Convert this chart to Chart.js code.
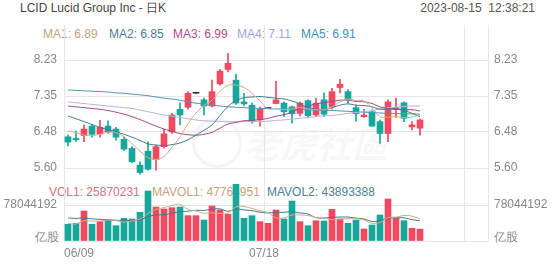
<!DOCTYPE html>
<html>
<head>
<meta charset="utf-8">
<script src="https://cdn.jsdelivr.net/npm/chart.js@4.4.0/dist/chart.umd.min.js"></script>
<style>
body { margin: 0; background: #fff; font-family: "Liberation Sans", Arial, sans-serif; }
#wrap { position: relative; width: 552px; height: 265px; overflow: hidden; }
canvas { position: absolute; left: 0; }
.t { position: absolute; font-size: 12px; line-height: 14px; white-space: nowrap; }
.wm { position: absolute; color: rgba(0,0,0,0.05); font-size: 36px; font-weight: bold; font-style: italic; font-family: "Noto Sans CJK SC", sans-serif; }
.wmc { position: absolute; border: 3px solid rgba(0,0,0,0.045); border-radius: 50%; }
</style>
</head>
<body>
<div id="wrap">
  <div class="wmc" style="left:192px;top:118px;width:44px;height:44px;"></div>
  <div class="wm" style="left:244px;top:116px;">老虎社區</div>
  <div class="t" style="left:20px;top:1px;color:#444;">LCID Lucid Group Inc - 日K</div>
  <div class="t" style="right:17px;top:1px;color:#555;">2023-08-15&nbsp; 12:38:21</div>
  <div class="t" style="left:43px;top:27px;color:#c9a27e;">MA1: 6.89</div>
  <div class="t" style="left:109px;top:27px;color:#4a8197;">MA2: 6.85</div>
  <div class="t" style="left:173px;top:27px;color:#b34d8a;">MA3: 6.99</div>
  <div class="t" style="left:237px;top:27px;color:#a3a3e0;">MA4: 7.11</div>
  <div class="t" style="left:301px;top:27px;color:#3f93bd;">MA5: 6.91</div>
  <div class="t" style="left:49px;top:185px;color:#e0707a;">VOL1: 25870231</div>
  <div class="t" style="left:152px;top:185px;color:#c9a27e;">MAVOL1: 47764951</div>
  <div class="t" style="left:267px;top:185px;color:#4a8197;">MAVOL2: 43893388</div>
  <div class="t" style="left:35px;top:230px;color:#888;">亿股</div>
  <div class="t" style="left:494px;top:230px;color:#888;">亿股</div>
  <canvas id="priceChart" width="552" height="178" style="top:0"></canvas>
  <canvas id="volChart" width="552" height="87" style="top:178px"></canvas>
</div>
<script>
// 45 trading days, 06/09 .. 08/14
const dates = ['06/09','06/12','06/13','06/14','06/15','06/16','06/20','06/21','06/22','06/23',
  '06/26','06/27','06/28','06/29','06/30','07/03','07/05','07/06','07/07','07/10',
  '07/11','07/12','07/13','07/14','07/17','07/18','07/19','07/20','07/21','07/24',
  '07/25','07/26','07/27','07/28','07/31','08/01','08/02','08/03','08/04','08/07',
  '08/08','08/09','08/10','08/11','08/14'];

const opens  = [6.36,6.32,6.39,6.62,6.43,6.62,6.55,6.30,6.08,5.67,6.01,5.81,6.12,6.48,7.03,7.08,7.42,7.26,7.11,7.65,
  8.00,7.74,7.21,7.13,6.77,7.05,7.17,7.18,7.09,6.93,7.24,6.89,7.26,7.09,7.56,7.46,7.07,6.85,6.97,6.73,
  6.44,7.02,7.19,6.60,6.57];
const highs  = [6.40,6.50,6.65,6.65,6.76,6.75,6.59,6.35,6.12,5.75,6.24,6.16,6.54,6.93,7.18,7.46,7.42,7.30,7.74,8.00,
  8.39,7.89,7.42,7.18,7.09,7.05,7.71,7.21,7.11,7.21,7.26,7.30,7.43,7.54,7.76,7.51,7.13,7.03,7.01,6.77,
  7.26,7.30,7.21,6.73,6.79];
const lows   = [6.14,6.24,6.24,6.35,6.35,6.44,6.28,6.02,5.73,5.45,5.55,5.55,6.08,6.44,6.65,7.03,7.42,6.89,7.09,7.62,
  7.94,7.15,7.11,6.69,6.62,7.05,7.16,6.85,6.69,6.87,6.82,6.85,6.85,7.04,7.43,7.18,6.74,6.83,6.61,6.20,
  6.24,6.83,6.73,6.53,6.40];
const closes = [6.23,6.29,6.55,6.42,6.59,6.48,6.35,6.06,5.75,5.49,5.57,6.12,6.43,6.89,6.89,7.42,7.42,7.11,7.46,7.96,
  8.15,7.18,7.16,6.73,7.04,7.05,7.26,6.97,6.92,7.18,6.87,7.18,6.91,7.46,7.64,7.27,6.92,6.89,6.62,6.44,
  7.21,7.07,6.81,6.65,6.77];

const ma1 = [6.50,6.46,6.40,6.39,6.42,6.47,6.46,6.36,6.19,6.01,5.85,5.81,5.88,6.11,6.36,6.68,6.94,7.12,7.25,7.47,
  7.61,7.62,7.56,7.42,7.23,7.04,7.05,7.02,7.04,7.07,7.04,7.02,7.02,7.09,7.21,7.28,7.24,7.23,7.07,6.85,
  6.84,6.85,6.83,6.84,6.89];
const ma2 = [6.87,6.80,6.73,6.66,6.59,6.53,6.48,6.42,6.35,6.27,6.19,6.16,6.15,6.17,6.21,6.29,6.40,6.52,6.65,6.88,
  7.10,7.24,7.31,7.33,7.34,7.32,7.30,7.28,7.23,7.16,7.07,7.04,7.02,7.07,7.13,7.16,7.13,7.12,7.09,7.03,
  7.04,7.03,7.00,6.93,6.85];
const ma3 = [7.11,7.09,7.07,7.05,7.03,7.00,6.96,6.91,6.85,6.78,6.70,6.62,6.55,6.49,6.44,6.41,6.40,6.42,6.47,6.57,
  6.67,6.71,6.75,6.76,6.78,6.81,6.86,6.90,6.96,7.05,7.11,7.16,7.19,7.22,7.25,7.25,7.22,7.21,7.17,7.09,
  7.05,7.04,7.02,7.02,6.99];
const ma4 = [7.21,7.19,7.17,7.15,7.13,7.11,7.09,7.07,7.05,7.01,6.97,6.93,6.89,6.86,6.83,6.80,6.77,6.75,6.74,6.73,
  6.73,6.73,6.73,6.73,6.73,6.74,6.76,6.77,6.79,6.81,6.83,6.85,6.87,6.88,6.90,6.93,6.95,6.97,7.00,7.04,
  7.07,7.08,7.10,7.11,7.11];
const ma5 = [7.50,7.49,7.48,7.47,7.46,7.45,7.43,7.42,7.40,7.38,7.36,7.33,7.30,7.28,7.25,7.21,7.18,7.15,7.13,7.11,
  7.09,7.08,7.07,7.06,7.05,7.05,7.04,7.04,7.03,7.03,7.02,7.01,7.00,7.00,6.99,6.98,6.97,6.96,6.95,6.94,
  6.93,6.93,6.92,6.92,6.91];

const volumes = [36.2,38.4,65.0,36.2,41.9,45.5,33.2,49.2,47.7,62.2,108.4,73.7,69.4,72.2,73.7,54.9,54.9,45.5,75.9,67.2,
  57.9,122.9,49.2,54.9,41.9,38.4,67.2,47.7,86.7,41.9,33.2,44.0,43.4,68.7,47.7,38.4,45.5,26.0,34.7,56.4,
  91.1,50.5,44.0,27.5,25.87].map(v => v * 1e6);
const mavol1 = [38,37,44,43,43.5,45.3,44.4,41.2,43.5,47.6,60.1,68.2,72.3,77.2,79.5,68.8,65.0,60.2,61.0,59.7,
  60.3,73.9,74.6,70.4,65.4,61.5,50.3,50.0,56.4,56.4,55.3,50.7,49.8,46.2,47.4,48.4,48.7,45.3,38.5,40.2,
  50.7,51.7,55.3,53.9,47.76].map(v => v * 1e6);
const mavol2 = [50,49,50,48,47,46,45,44.5,44.5,45.6,52.8,56.3,56.7,60.3,63.5,64.5,66.6,66.3,69.1,69.6,
  64.5,69.5,67.4,65.7,62.5,60.9,62.1,62.3,63.4,60.9,58.4,50.5,49.9,51.3,51.9,51.9,49.7,47.6,42.4,43.8,
  49.6,50.2,50.3,46.2,43.89].map(v => v * 1e6);

const priceTicks = [5.60, 6.48, 7.35, 8.23];
const volTicks = [0, 78044192];
const gridSlots = [0, 25, 50, 53];   // vertical grid lines (slot index)
const labelSlots = [0, 25];
const totalSlots = 53;

const RED = '#f0485e', GREEN = '#17a89b', DOJI = '#333333';
const GRID = '#e6e6e6';
const FONT = { size: 12, family: 'Liberation Sans' };

const colors = opens.map((o, i) => o === closes[i] ? DOJI : (closes[i] > o ? RED : GREEN));
const volColors = opens.map((o, i) => closes[i] >= o ? RED : GREEN);

const xs = dates.map((d, i) => i + 0.5);
const pts = arr => arr.map((v, i) => ({ x: xs[i], y: v }));

function maLine(arr, color) {
  return { type: 'line', data: pts(arr), borderColor: color, borderWidth: 1, pointRadius: 0, tension: 0.4, order: 0 };
}

const fixTicks = values => s => { s.ticks = values.map(v => ({ value: v })); };

function xAxis(showLabels) {
  return {
    type: 'linear', min: 0, max: totalSlots, offset: false,
    afterBuildTicks: fixTicks(gridSlots),
    afterFit: s => { s.height = showLabels ? 24 : 0; s.paddingLeft = 0; s.paddingRight = 0; },
    grid: { color: GRID, drawTicks: false, offset: false },
    border: { display: false },
    ticks: { display: showLabels, color: '#888', font: FONT, padding: 5, align: 'inner', maxRotation: 0,
      callback: v => labelSlots.includes(v) ? dates[v] : '' }
  };
}

function sideAxis(pos, min, max, values, fmt, showGrid) {
  return {
    type: 'linear', position: pos, min: min, max: max,
    afterBuildTicks: fixTicks(values),
    afterFit: s => { s.width = 64; s.paddingTop = 0; s.paddingBottom = 0; },
    grid: { display: showGrid, color: GRID, drawTicks: false },
    border: { display: false },
    ticks: { color: '#888', font: FONT, padding: pos === 'left' ? 7 : 6, callback: fmt }
  };
}

const priceFmt = v => v.toFixed(2);
const volFmt = v => v === 0 ? '' : String(v);

// price canvas: plot 25..178 px
const pMin = 5.3565, pMax = 9.0824;
// volume canvas: plot 0..63 px (178..241 on page)
const vMax = 136.58e6;

const common = {
  responsive: false, animation: false, devicePixelRatio: 1,
  plugins: { legend: { display: false }, tooltip: { enabled: false } }
};

new Chart(document.getElementById('priceChart'), {
  data: {
    datasets: [
      { type: 'bar', data: xs.map((x, i) => ({ x: x, y: [lows[i], highs[i]] })), backgroundColor: colors,
        barThickness: 1, grouped: false, order: 2 },
      { type: 'bar', data: xs.map((x, i) => ({ x: x, y: [opens[i], closes[i]] })), backgroundColor: colors,
        barThickness: 6, minBarLength: 1, grouped: false, order: 1 },
      maLine(ma1, '#d2ac86'),
      maLine(ma2, '#3f7d8f'),
      maLine(ma3, '#a64a86'),
      maLine(ma4, '#b4b4e6'),
      maLine(ma5, '#4d97b8')
    ]
  },
  options: Object.assign({}, common, {
    layout: { padding: { top: 25, left: 0, right: 0, bottom: 0 } },
    scales: {
      x: xAxis(false),
      y: sideAxis('left', pMin, pMax, priceTicks, priceFmt, true),
      yR: sideAxis('right', pMin, pMax, priceTicks, priceFmt, false)
    }
  })
});

new Chart(document.getElementById('volChart'), {
  data: {
    datasets: [
      { type: 'bar', data: xs.map((x, i) => ({ x: x, y: volumes[i] })), backgroundColor: volColors,
        barThickness: 6, grouped: false, order: 1 },
      maLine(mavol1, '#d2ac86'),
      maLine(mavol2, '#3f7d8f')
    ]
  },
  options: Object.assign({}, common, {
    layout: { padding: 0 },
    scales: {
      x: xAxis(true),
      y: sideAxis('left', 0, vMax, volTicks, volFmt, true),
      yR: sideAxis('right', 0, vMax, volTicks, volFmt, false)
    }
  })
});
</script>
</body>
</html>
